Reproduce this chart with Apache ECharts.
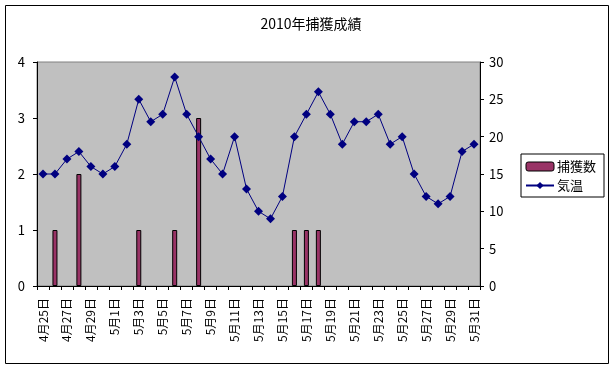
<!DOCTYPE html>
<html><head><meta charset="utf-8">
<script src="https://cdn.jsdelivr.net/npm/echarts@6/dist/echarts.min.js"></script>
<style>html,body{margin:0;padding:0;background:#fff}#c{width:615px;height:369px}</style>
</head><body><div id="c"></div>
<script>
const categories = ["4月25日","4月26日","4月27日","4月28日","4月29日","4月30日","5月1日","5月2日","5月3日","5月4日","5月5日","5月6日","5月7日","5月8日","5月9日","5月10日","5月11日","5月12日","5月13日","5月14日","5月15日","5月16日","5月17日","5月18日","5月19日","5月20日","5月21日","5月22日","5月23日","5月24日","5月25日","5月26日","5月27日","5月28日","5月29日","5月30日","5月31日"];
const catchCount = [null,1,null,2,null,null,null,null,1,null,null,1,null,3,null,null,null,null,null,null,null,1,1,1,null,null,null,null,null,null,null,null,null,null,null,null,null];
const temperature = [15,15,17,18,16,15,16,19,25,22,23,28,23,20,17,15,20,13,10,9,12,20,23,26,23,19,22,22,23,19,20,15,12,11,12,18,19];
const title = "2010年捕獲成績";
const seriesNames = ["捕獲数","気温"];

const FONT = '"Noto Sans CJK JP","Noto Sans",sans-serif';
const chart = echarts.init(document.getElementById('c'));
chart.setOption({
  animation: false,
  textStyle: {fontFamily: FONT, color: '#000'},
  title: {text: title, left: 306, top: 12, textAlign: 'center',
    textStyle: {fontFamily: FONT, fontSize: 14, fontWeight: 'normal', color: '#000'}},
  graphic: [{type: 'rect', shape: {x: 5.5, y: 5.5, width: 603, height: 358},
    style: {fill: 'none', stroke: '#000', lineWidth: 1}, z: 100}],
  legend: {
    orient: 'vertical', left: 521, top: 154, width: 84,
    borderColor: '#000', borderWidth: 1, padding: [6, 8, 5, 4],
    itemGap: 6, itemWidth: 28, itemHeight: 9,
    textStyle: {fontFamily: FONT, fontSize: 13, color: '#000', padding: [0,0,0,-2]},
    data: [{name: seriesNames[0], itemStyle: {borderWidth: 1, borderColor: '#000'}}, {name: seriesNames[1]}]
  },
  grid: {left: 37, top: 62, width: 443, height: 224, show: true,
    backgroundColor: '#c0c0c0', borderColor: '#808080', borderWidth: 1},
  xAxis: {
    type: 'category', data: categories, boundaryGap: true,
    axisLine: {lineStyle: {color: '#000', width: 1}},
    axisTick: {show: true, interval: 0, length: 4, lineStyle: {color: '#000'}},
    axisLabel: {interval: 1, rotate: 90, fontSize: 12, color: '#000', margin: 12, fontFamily: FONT},
    splitLine: {show: false}
  },
  yAxis: [
    {type: 'value', min: 0, max: 4, interval: 1, position: 'left',
      axisLine: {show: true, lineStyle: {color: '#000'}},
      axisTick: {show: true, length: 4, lineStyle: {color: '#000'}},
      axisLabel: {fontSize: 13, color: '#000', margin: 12, fontFamily: FONT},
      splitLine: {show: false}},
    {type: 'value', min: 0, max: 30, interval: 5, position: 'right',
      axisLine: {show: true, lineStyle: {color: '#000'}},
      axisTick: {show: true, length: 4, lineStyle: {color: '#000'}},
      axisLabel: {fontSize: 13, color: '#000', margin: 9, fontFamily: FONT},
      splitLine: {show: false}}
  ],
  series: [
    {name: seriesNames[0], type: 'bar', yAxisIndex: 0, data: catchCount, barWidth: 5,
      itemStyle: {color: '#993366', borderColor: '#000', borderWidth: 1}},
    {name: seriesNames[1], type: 'line', yAxisIndex: 1, data: temperature,
      symbol: 'diamond', symbolSize: 9, showSymbol: true, showAllSymbol: true,
      lineStyle: {color: '#000080', width: 1},
      itemStyle: {color: '#000080'}}
  ]
});
</script></body></html>
